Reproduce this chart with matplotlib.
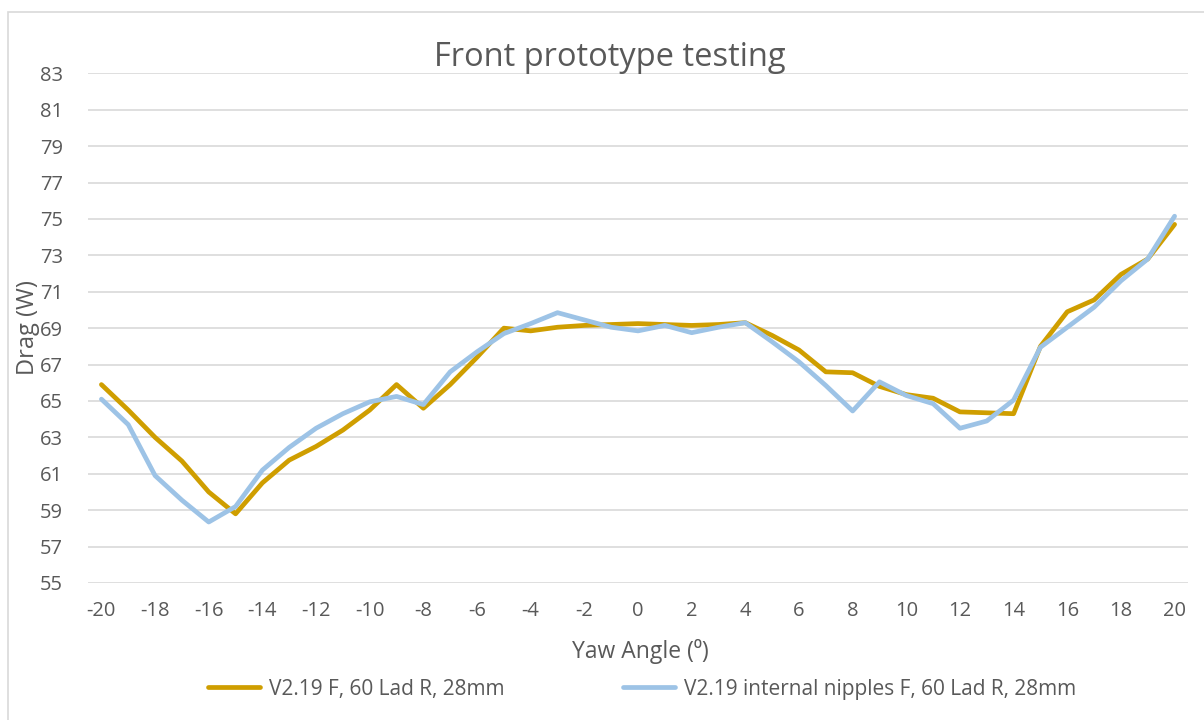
import matplotlib.pyplot as plt
from matplotlib.patches import Rectangle

# yaw angles -20..20 and drag values (W)
YAW = list(range(-20, 21))
DRAG_V219 = [
    65.9, 64.5, 63.0, 61.7, 60.0, 58.8, 60.5, 61.75, 62.5, 63.4,
    64.5, 65.9, 64.6, 65.9, 67.4, 69.0, 68.85, 69.05, 69.15, 69.2,
    69.25, 69.2, 69.15, 69.2, 69.3, 68.6, 67.8, 66.6, 66.55, 65.8,
    65.35, 65.15, 64.4, 64.35, 64.3, 68.0, 69.9, 70.55, 71.95, 72.8,
    74.7,
]
DRAG_INTERNAL = [
    65.1, 63.7, 60.9, 59.55, 58.35, 59.2, 61.2, 62.45, 63.5, 64.3,
    64.95, 65.25, 64.8, 66.6, 67.7, 68.7, 69.25, 69.85, 69.45, 69.05,
    68.85, 69.15, 68.75, 69.05, 69.3, 68.25, 67.15, 65.85, 64.45, 66.05,
    65.3, 64.85, 63.5, 63.9, 65.05, 67.95, 69.05, 70.15, 71.6, 72.8,
    75.15,
]
SERIES_NAMES = ["V2.19 F, 60 Lad R, 28mm", "V2.19 internal nipples F, 60 Lad R, 28mm"]
Y_TICKS = list(range(55, 84, 2))
X_TICKS = list(range(-20, 21, 2))

GOLD = "#CF9E00"
BLUE = "#9DC3E6"
TEXT = "#595959"
GRID = "#D9D9D9"

plt.rcParams["font.family"] = ["Open Sans", "DejaVu Sans"]
plt.rcParams["axes.unicode_minus"] = False

fig = plt.figure(figsize=(12.04, 7.2), dpi=100)
W, H = 1204, 720

# chart border (Excel style), runs off the right and bottom edges
fig.patches.append(Rectangle((8 / W, -0.01), 1.2, (H - 12) / H + 0.01,
                             transform=fig.transFigure, fill=False,
                             edgecolor=GRID, linewidth=1.2))

ax = fig.add_axes([88 / W, 1 - 583 / H, (1188 - 88) / W, (583 - 73.3) / H])
ax.plot(YAW, DRAG_V219, color=GOLD, linewidth=3.4, label=SERIES_NAMES[0],
        solid_joinstyle="round", solid_capstyle="round")
ax.plot(YAW, DRAG_INTERNAL, color=BLUE, linewidth=3.4, label=SERIES_NAMES[1],
        solid_joinstyle="round", solid_capstyle="round")

ax.set_xlim(-20.5, 20.5)
ax.set_ylim(55, 83)
ax.set_yticks(Y_TICKS)
ax.set_xticks(X_TICKS)
ax.grid(True, axis="y", color=GRID, linewidth=1.2)
ax.set_axisbelow(True)
for s in ax.spines.values():
    s.set_visible(False)
ax.tick_params(length=0, labelsize=14.5, labelcolor=TEXT)
ax.tick_params(axis="x", pad=13)
ax.tick_params(axis="y", pad=18)

fig.text(610 / W, 1 - 57 / H, "Front prototype testing", ha="center", va="center",
         fontsize=23.5, color=TEXT)
fig.text(28 / W, 1 - 328 / H, "Drag (W)", ha="center", va="center",
         rotation=90, fontsize=17, color=TEXT)
fig.text(640 / W, 1 - 652 / H, "Yaw Angle (\u2070)", ha="center", va="center",
         fontsize=16.5, color=TEXT)

fig.legend(loc="center", bbox_to_anchor=(642 / W, 1 - 689 / H), ncol=2,
           frameon=False, fontsize=15, labelcolor=TEXT, handlelength=2.5,
           handletextpad=0.43, columnspacing=5.7)

fig.savefig("out.png", dpi=100)
